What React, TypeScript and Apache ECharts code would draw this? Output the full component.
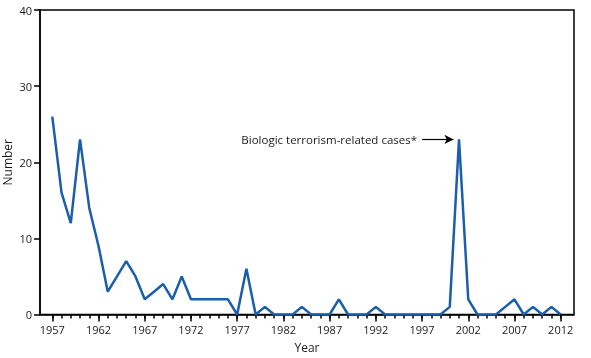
import React, { useEffect, useRef } from "react";
import * as echarts from "echarts";

const years: number[] = [];
for (let y = 1957; y <= 2012; y++) years.push(y);
const values = [
  26, 16, 12, 23, 14, 9, 3, 5, 7, 5, 2, 3, 4, 2, 5, 2, 2, 2, 2, 2,
  0, 6, 0, 1, 0, 0, 0, 1, 0, 0, 0, 2, 0, 0, 0, 1, 0, 0, 0, 0,
  0, 0, 0, 1, 23, 2, 0, 0, 0, 1, 2, 0, 1, 0, 1, 0,
];
const labelYears = [1957, 1962, 1967, 1972, 1977, 1982, 1987, 1992, 1997, 2002, 2007, 2012];
const yTicks = [0, 10, 20, 30, 40];
const annotationText = "Biologic terrorism-related cases*";

const FONT = "'Open Sans', 'Noto Sans', sans-serif";
const XMIN = 1955.67;
const XMAX = 2013.44;
const TEXT = "#1a1a1a";

export default function App() {
  const ref = useRef<HTMLDivElement>(null);
  useEffect(() => {
    if (!ref.current) return;
    const chart = echarts.init(ref.current, null, { renderer: "svg" });
    chart.setOption({
      animation: false,
      grid: {
        left: 40,
        top: 10,
        right: 17,
        bottom: 43.5,
        containLabel: false,
        outerBoundsMode: "none",
        show: true,
        borderColor: "#000",
        borderWidth: 1.5,
      },
      xAxis: [
        {
          type: "value",
          min: XMIN,
          max: XMAX,
          name: "Year",
          nameLocation: "middle",
          nameGap: 27,
          nameMoveOverlap: false,
          nameTextStyle: { fontFamily: FONT, fontSize: 12, color: TEXT },
          axisLine: { show: true, lineStyle: { color: "#000", width: 1.5 } },
          axisTick: { show: true, customValues: labelYears, length: 7, lineStyle: { color: "#000", width: 1.5 } },
          axisLabel: {
            customValues: labelYears,
            formatter: (v: number) => String(Math.round(v)),
            fontFamily: FONT,
            fontSize: 11,
            color: TEXT,
            margin: 9,
          },
          splitLine: { show: false },
        },
        {
          type: "value",
          min: XMIN,
          max: XMAX,
          position: "bottom",
          axisLine: { show: false },
          axisTick: { show: true, customValues: years, length: 4, lineStyle: { color: "#000", width: 1.5 } },
          axisLabel: { show: false },
          splitLine: { show: false },
        },
      ],
      yAxis: {
        type: "value",
        min: 0,
        max: 40,
        interval: 10,
        name: "Number",
        nameLocation: "middle",
        nameGap: 27,
        nameMoveOverlap: false,
        nameTextStyle: { fontFamily: FONT, fontSize: 12, color: TEXT },
        axisLine: { show: true, lineStyle: { color: "#000", width: 1.5 } },
        axisTick: { show: true, customValues: yTicks, length: 6, lineStyle: { color: "#000", width: 1.5 } },
        axisLabel: { customValues: yTicks, fontFamily: FONT, fontSize: 11, color: TEXT, margin: 8 },
        splitLine: { show: false },
      },
      series: [
        {
          type: "line",
          data: years.map((y, i) => [y, values[i]]),
          showSymbol: false,
          symbol: "none",
          lineStyle: { color: "#1b5eab", width: 2.5 },
          markLine: {
            silent: true,
            symbol: ["none", "arrow"],
            symbolSize: [7, 9],
            lineStyle: { color: "#000", width: 1.2, type: "solid" },
            label: {
              show: true,
              position: "start",
              formatter: annotationText,
              fontFamily: FONT,
              fontSize: 11.5,
              color: TEXT,
              distance: 5,
            },
            data: [[{ coord: [1997.0, 23] }, { coord: [2000.4, 23] }]],
          },
        },
      ],
    });
    return () => chart.dispose();
  }, []);
  return <div ref={ref} style={{ position: "fixed", left: 0, top: 0, width: 591, height: 358 }} />;
}
